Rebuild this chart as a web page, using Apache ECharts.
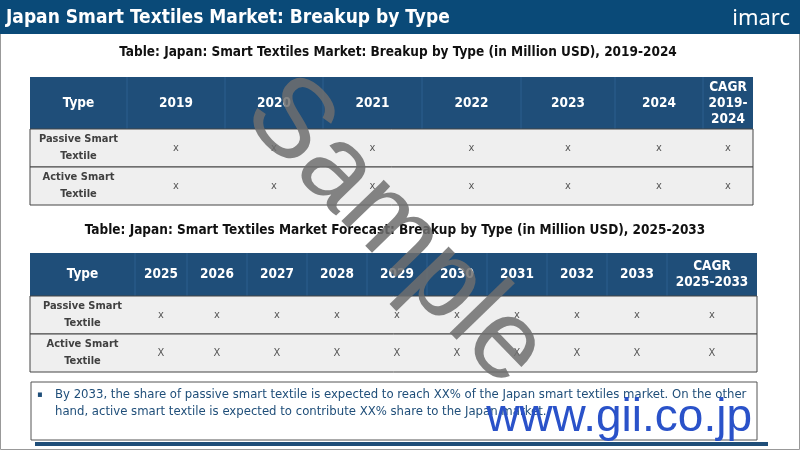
<!DOCTYPE html>
<html>
<head>
<meta charset="utf-8">
<script src="https://cdn.jsdelivr.net/npm/echarts@6/dist/echarts.min.js"></script>
<style>html,body{margin:0;padding:0;background:#fff}#main{width:800px;height:450px}</style>
</head>
<body>
<div id="main"></div>
<script>
// 表格数据
var title = 'Japan Smart Textiles Market: Breakup by Type';
var subtitle1 = 'Table: Japan: Smart Textiles Market: Breakup by Type (in Million USD), 2019-2024';
var subtitle2 = 'Table: Japan: Smart Textiles Market Forecast: Breakup by Type (in Million USD), 2025-2033';
var header1 = ['Type', '2019', '2020', '2021', '2022', '2023', '2024', 'CAGR\n2019-\n2024'];
var header2 = ['Type', '2025', '2026', '2027', '2028', '2029', '2030', '2031', '2032', '2033', 'CAGR\n2025-2033'];
var types = ['Passive Smart\nTextile', 'Active Smart\nTextile'];
var values1 = [
  ['x', 'x', 'x', 'x', 'x', 'x', 'x'],
  ['x', 'x', 'x', 'x', 'x', 'x', 'x']
];
var values2 = [
  ['x', 'x', 'x', 'x', 'x', 'x', 'x', 'x', 'x', 'x'],
  ['X', 'X', 'X', 'X', 'X', 'X', 'X', 'X', 'X', 'X']
];
var note = 'By 2033, the share of passive smart textile is expected to reach XX% of the Japan smart textiles market. On the other\nhand, active smart textile is expected to contribute XX% share to the Japan market.';

// 列边界
var cols1 = [30, 127, 225, 323, 422, 521, 615, 703, 753];
var cols2 = [30, 135, 187, 247, 307, 367, 427, 487, 547, 607, 667, 757];

var font = '"DejaVu Sans Condensed", "DejaVu Sans", sans-serif';
var els = [];

function buildTable(cols, header, values, top, headH, rowH, headFont) {
  var left = cols[0], right = cols[cols.length - 1];
  els.push({ type: 'rect', shape: { x: left, y: top, width: right - left, height: headH }, style: { fill: '#1f4e79' } });
  for (var c = 1; c < cols.length - 1; c++) {
    els.push({ type: 'line', shape: { x1: cols[c], y1: top, x2: cols[c], y2: top + headH }, style: { stroke: '#2d5f8f', lineWidth: 1 } });
  }
  header.forEach(function (h, c) {
    els.push({ type: 'text', x: (cols[c] + cols[c + 1]) / 2, y: top + headH / 2,
      style: { text: h, fill: '#fff', font: 'bold ' + headFont + 'px ' + font, align: 'center', verticalAlign: 'middle', lineHeight: 16 } });
  });
  values.forEach(function (row, r) {
    var y = top + headH + r * rowH;
    els.push({ type: 'rect', shape: { x: left, y: y, width: right - left, height: rowH },
      style: { fill: '#efefef', stroke: '#444', lineWidth: 1 } });
    els.push({ type: 'text', x: (cols[0] + cols[1]) / 2, y: y + rowH / 2,
      style: { text: types[r], fill: '#404040', font: 'bold 11px ' + font, align: 'center', verticalAlign: 'middle', lineHeight: 17 } });
    row.forEach(function (v, c) {
      els.push({ type: 'text', x: (cols[c + 1] + cols[c + 2]) / 2, y: y + rowH / 2,
        style: { text: v, fill: '#555', font: '11px ' + font, align: 'center', verticalAlign: 'middle' } });
    });
  });
}

// 外框 + 标题栏
els.push({ type: 'rect', shape: { x: 0.5, y: 0.5, width: 799, height: 449 }, style: { fill: '#fff', stroke: '#999', lineWidth: 1 } });
els.push({ type: 'rect', shape: { x: 0, y: 0, width: 800, height: 34 }, style: { fill: '#0a4a78' } });
els.push({ type: 'text', x: 6, y: 18, style: { text: title, fill: '#fff', font: 'bold 19px ' + font, verticalAlign: 'middle' } });
els.push({ type: 'text', x: 790, y: 19, style: { text: 'imarc', fill: '#fff', font: '22px "Noto Sans", sans-serif', align: 'right', verticalAlign: 'middle' } });

els.push({ type: 'text', x: 398, y: 52, style: { text: subtitle1, fill: '#111', font: 'bold 13.5px ' + font, align: 'center', verticalAlign: 'middle' } });
buildTable(cols1, header1, values1, 77, 52, 38, 13.5);
els.push({ type: 'text', x: 395, y: 230, style: { text: subtitle2, fill: '#111', font: 'bold 13.5px ' + font, align: 'center', verticalAlign: 'middle' } });
buildTable(cols2, header2, values2, 253, 43, 38, 13.5);

// 说明框
els.push({ type: 'rect', shape: { x: 31, y: 382, width: 726, height: 58 }, style: { fill: '#fff', stroke: '#555', lineWidth: 1 } });
els.push({ type: 'text', x: 37, y: 395, style: { text: '▪', fill: '#1f4e79', font: '9px ' + font, verticalAlign: 'middle' } });
els.push({ type: 'text', x: 55, y: 386, style: { text: note, fill: '#1f4e79', font: '13px ' + font, lineHeight: 17 } });
els.push({ type: 'rect', shape: { x: 35, y: 442, width: 733, height: 4 }, style: { fill: '#1f4e79' } });

// 水印
els.push({ type: 'text', x: 395, y: 232, rotation: -0.8, z: 10,
  style: { text: 'Sample', fill: 'rgba(110,110,110,0.85)', font: '112px "Liberation Sans", Arial, sans-serif', align: 'center', verticalAlign: 'middle' } });
els.push({ type: 'text', x: 752, y: 418, z: 10,
  style: { text: 'www.gii.co.jp', fill: '#2a52c9', font: '46px "Liberation Sans", Arial, sans-serif', align: 'right', verticalAlign: 'middle' } });

var myChart = echarts.init(document.getElementById('main'));
myChart.setOption({ graphic: { elements: els } });
</script>
</body>
</html>
